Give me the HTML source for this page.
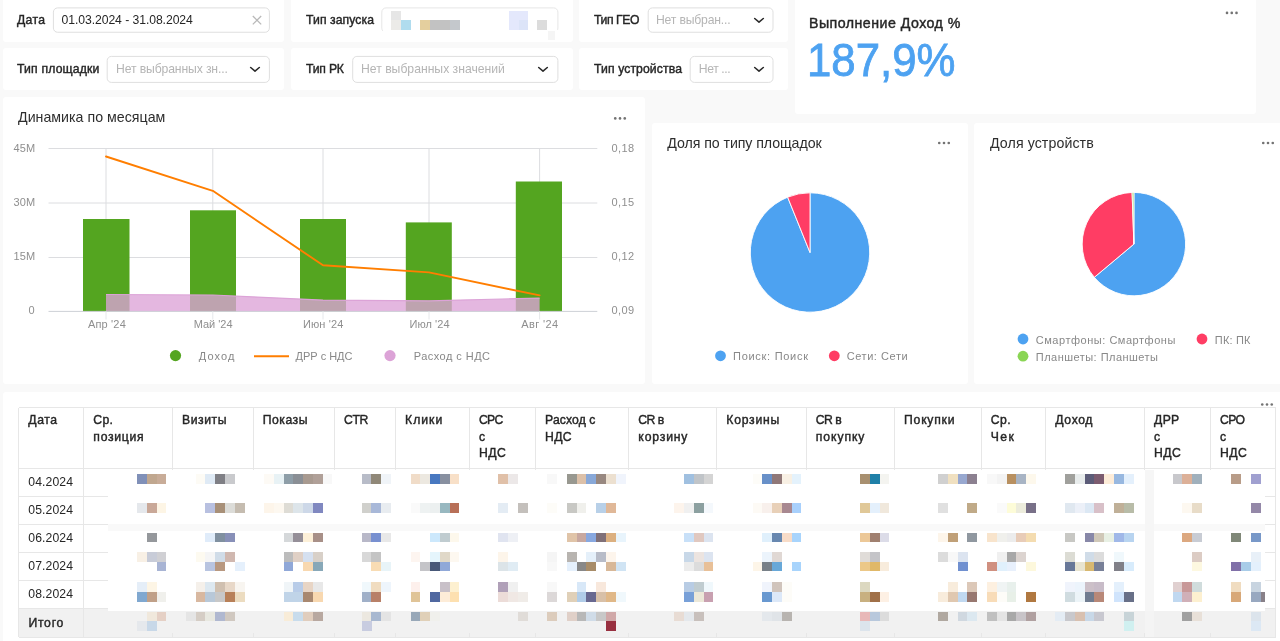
<!DOCTYPE html>
<html lang="ru"><head><meta charset="utf-8"><title>Dashboard</title>
<style>
html,body{margin:0;padding:0;}
body{width:1280px;height:641px;overflow:hidden;background:#f9f9f9;font-family:"Liberation Sans",sans-serif;position:relative;}
.card{position:absolute;background:#fff;border-radius:3px;}
.inp{position:absolute;background:#fff;border:1px solid #e8e8e8;border-radius:4.5px;box-sizing:border-box;}
.t{position:absolute;white-space:nowrap;line-height:1;}
.abs{position:absolute;}
svg{position:absolute;left:0;top:0;overflow:visible;}
.m{position:absolute;}
</style></head><body>
<div id="root" style="position:absolute;left:0;top:0;width:1290px;height:650px;filter:blur(0.35px);">
<div class="card" style="left:3.00px;top:-4.00px;width:281.00px;height:46.00px;"></div>
<div class="card" style="left:3.00px;top:48.30px;width:281.00px;height:42.00px;"></div>
<div class="card" style="left:291.00px;top:-4.00px;width:281.50px;height:46.00px;"></div>
<div class="card" style="left:291.00px;top:48.30px;width:281.50px;height:42.00px;"></div>
<div class="card" style="left:579.00px;top:-4.00px;width:208.50px;height:46.00px;"></div>
<div class="card" style="left:579.00px;top:48.30px;width:208.50px;height:42.00px;"></div>
<div class="card" style="left:795.00px;top:-4.00px;width:461.00px;height:117.50px;"></div>
<div class="card" style="left:3.00px;top:97.30px;width:642.40px;height:287.20px;"></div>
<div class="card" style="left:651.50px;top:122.70px;width:316.20px;height:261.80px;"></div>
<div class="card" style="left:974.40px;top:122.70px;width:309.60px;height:261.80px;"></div>
<div class="card" style="left:2.80px;top:391.80px;width:1281.20px;height:253.20px;"></div>
<svg width="1280" height="641"><rect x="53.4" y="7.9" width="216.00" height="24.35" rx="4.2" fill="#fff" stroke="#dfdfdf" stroke-width="1"/></svg>
<div class="t " style="left:17.00px;top:14.17px;font-size:12.2px;color:#262626;-webkit-text-stroke:0.42px #262626;letter-spacing:0.328px;">Дата</div>
<div class="t " style="left:61.50px;top:14.27px;font-size:12.2px;color:#262626;letter-spacing:-0.067px;">01.03.2024 - 31.08.2024</div>
<svg width="1280" height="641"><path d="M252.8 16 L261.2 24.4 M261.2 16 L252.8 24.4" stroke="#b9b9b9" stroke-width="1.3" fill="none"/></svg>
<svg width="1280" height="641"><rect x="107.2" y="56.4" width="162.20" height="26.00" rx="4.2" fill="#fff" stroke="#dfdfdf" stroke-width="1"/></svg>
<div class="t " style="left:17.00px;top:63.17px;font-size:12.2px;color:#262626;-webkit-text-stroke:0.42px #262626;letter-spacing:0.185px;">Тип площадки</div>
<div class="t " style="left:116.00px;top:63.27px;font-size:12.2px;color:#b5b5b5;letter-spacing:-0.123px;">Нет выбранных зн...</div>
<svg width="1280" height="641"><path d="M250.70 67.50 L255.00 71.05 L259.30 67.50" fill="none" stroke="#2b2b2b" stroke-width="1.6" stroke-linecap="round" stroke-linejoin="round"/></svg>
<svg width="1280" height="641"><rect x="381.8" y="7.9" width="176.10" height="24.35" rx="4.2" fill="#fff" stroke="#e6e6e6" stroke-width="1"/></svg>
<div class="t " style="left:306.00px;top:14.17px;font-size:12.2px;color:#262626;-webkit-text-stroke:0.42px #262626;letter-spacing:0.083px;">Тип запуска</div>
<svg width="1280" height="641"><rect x="352.7" y="56.4" width="205.20" height="26.00" rx="4.2" fill="#fff" stroke="#dfdfdf" stroke-width="1"/></svg>
<div class="t " style="left:306.00px;top:63.17px;font-size:12.2px;color:#262626;-webkit-text-stroke:0.42px #262626;letter-spacing:-0.194px;">Тип РК</div>
<div class="t " style="left:361.00px;top:63.27px;font-size:12.2px;color:#b5b5b5;">Нет выбранных значений</div>
<svg width="1280" height="641"><path d="M538.70 67.50 L543.00 71.05 L547.30 67.50" fill="none" stroke="#2b2b2b" stroke-width="1.6" stroke-linecap="round" stroke-linejoin="round"/></svg>
<svg width="1280" height="641"><rect x="648.2" y="7.9" width="124.80" height="24.35" rx="4.2" fill="#fff" stroke="#dfdfdf" stroke-width="1"/></svg>
<div class="t " style="left:594.00px;top:14.17px;font-size:12.2px;color:#262626;-webkit-text-stroke:0.42px #262626;letter-spacing:-0.410px;">Тип ГЕО</div>
<div class="t " style="left:656.00px;top:14.27px;font-size:12.2px;color:#b5b5b5;letter-spacing:-0.178px;">Нет выбран...</div>
<svg width="1280" height="641"><path d="M754.70 18.50 L759.00 22.05 L763.30 18.50" fill="none" stroke="#2b2b2b" stroke-width="1.6" stroke-linecap="round" stroke-linejoin="round"/></svg>
<svg width="1280" height="641"><rect x="690.2" y="56.4" width="82.80" height="26.00" rx="4.2" fill="#fff" stroke="#dfdfdf" stroke-width="1"/></svg>
<div class="t " style="left:594.00px;top:63.17px;font-size:12.2px;color:#262626;-webkit-text-stroke:0.42px #262626;letter-spacing:0.109px;">Тип устройства</div>
<div class="t " style="left:698.75px;top:63.27px;font-size:12.2px;color:#b5b5b5;letter-spacing:-0.389px;">Нет ...</div>
<svg width="1280" height="641"><path d="M754.70 67.50 L759.00 71.05 L763.30 67.50" fill="none" stroke="#2b2b2b" stroke-width="1.6" stroke-linecap="round" stroke-linejoin="round"/></svg>
<div class="t " style="left:809.00px;top:16.08px;font-size:14.2px;color:#262626;-webkit-text-stroke:0.42px #262626;letter-spacing:0.471px;">Выполнение Доход %</div>
<div class="t " style="left:806.60px;top:37.26px;font-size:46px;color:#4DA2F1;-webkit-text-stroke:0.8px #4DA2F1;transform:scaleX(0.9512);transform-origin:0 0;">187,9%</div>
<svg width="1280" height="641"><g fill="#737373"><circle cx="1227.00" cy="12.9" r="1.3"/><circle cx="1231.75" cy="12.9" r="1.3"/><circle cx="1236.50" cy="12.9" r="1.3"/></g></svg>
<div class="t " style="left:18.00px;top:110.28px;font-size:14.2px;color:#2e2e2e;letter-spacing:0.021px;">Динамика по месяцам</div>
<svg width="1280" height="641"><g fill="#737373"><circle cx="615.25" cy="118.4" r="1.3"/><circle cx="620.00" cy="118.4" r="1.3"/><circle cx="624.75" cy="118.4" r="1.3"/></g></svg>
<div class="t " style="left:667.30px;top:136.18px;font-size:14.2px;color:#2e2e2e;letter-spacing:-0.075px;">Доля по типу площадок</div>
<svg width="1280" height="641"><g fill="#737373"><circle cx="939.25" cy="143" r="1.3"/><circle cx="944.00" cy="143" r="1.3"/><circle cx="948.75" cy="143" r="1.3"/></g></svg>
<div class="t " style="left:990.00px;top:136.18px;font-size:14.2px;color:#2e2e2e;letter-spacing:0.084px;">Доля устройств</div>
<svg width="1280" height="641"><g fill="#737373"><circle cx="1263.25" cy="143" r="1.3"/><circle cx="1268.00" cy="143" r="1.3"/><circle cx="1272.75" cy="143" r="1.3"/></g></svg>
<svg width="1280" height="641"><g fill="#737373"><circle cx="1262.25" cy="404.5" r="1.3"/><circle cx="1267.00" cy="404.5" r="1.3"/><circle cx="1271.75" cy="404.5" r="1.3"/></g></svg>
<svg width="1280" height="641"><line x1="48.5" x2="597.3" y1="148.5" y2="148.5" stroke="#dcdde0" stroke-width="1"/><line x1="48.5" x2="597.3" y1="203.0" y2="203.0" stroke="#dcdde0" stroke-width="1"/><line x1="48.5" x2="597.3" y1="257.5" y2="257.5" stroke="#dcdde0" stroke-width="1"/><line x1="106" x2="106" y1="148.5" y2="311.5" stroke="#dcdde0" stroke-width="1"/><line x1="212.8" x2="212.8" y1="148.5" y2="311.5" stroke="#dcdde0" stroke-width="1"/><line x1="323" x2="323" y1="148.5" y2="311.5" stroke="#dcdde0" stroke-width="1"/><line x1="429" x2="429" y1="148.5" y2="311.5" stroke="#dcdde0" stroke-width="1"/><line x1="539.6" x2="539.6" y1="148.5" y2="311.5" stroke="#dcdde0" stroke-width="1"/><rect x="83" y="219" width="46.50" height="92.50" fill="#54A520"/><rect x="190" y="210.3" width="46.00" height="101.20" fill="#54A520"/><rect x="300" y="219" width="46.00" height="92.50" fill="#54A520"/><rect x="405.8" y="222.4" width="46.00" height="89.10" fill="#54A520"/><rect x="515.8" y="181.5" width="46.20" height="130.00" fill="#54A520"/><polygon points="106,294.5 212.8,295.0 323,300.1 429,300.8 539.6,298.1 539.6,311.5 106,311.5" fill="#DCA3D7" fill-opacity="0.78"/><polyline points="106,294.5 212.8,295.0 323,300.1 429,300.8 539.6,298.1" fill="none" stroke="#DCA3D7" stroke-width="1.2"/><line x1="48.5" x2="597.3" y1="311.4" y2="311.4" stroke="#cdd1d6" stroke-width="1"/><line x1="106" x2="106" y1="311.4" y2="319.5" stroke="#e6e8eb" stroke-width="1"/><line x1="212.8" x2="212.8" y1="311.4" y2="319.5" stroke="#e6e8eb" stroke-width="1"/><line x1="323" x2="323" y1="311.4" y2="319.5" stroke="#e6e8eb" stroke-width="1"/><line x1="429" x2="429" y1="311.4" y2="319.5" stroke="#e6e8eb" stroke-width="1"/><line x1="539.6" x2="539.6" y1="311.4" y2="319.5" stroke="#e6e8eb" stroke-width="1"/><polyline points="106,156.5 212.8,190.8 323,265.3 429,272.4 539.6,295.4" fill="none" stroke="#FF7E00" stroke-width="1.9" stroke-linejoin="round" stroke-linecap="round"/><circle cx="175.5" cy="355.6" r="5.6" fill="#54A520"/><line x1="254" x2="289" y1="356.3" y2="356.3" stroke="#FF7E00" stroke-width="1.9"/><circle cx="390" cy="355.6" r="5.6" fill="#DCA3D7"/></svg>
<div class="t " style="left:13.40px;top:142.59px;font-size:11px;color:#8f8f8f;letter-spacing:0.200px;">45M</div>
<div class="t " style="left:13.40px;top:196.62px;font-size:11px;color:#8f8f8f;letter-spacing:0.200px;">30M</div>
<div class="t " style="left:13.40px;top:250.65px;font-size:11px;color:#8f8f8f;letter-spacing:0.200px;">15M</div>
<div class="t " style="left:28.60px;top:304.68px;font-size:11px;color:#8f8f8f;">0</div>
<div class="t " style="left:611.60px;top:142.59px;font-size:11px;color:#8f8f8f;letter-spacing:0.330px;">0,18</div>
<div class="t " style="left:611.60px;top:196.62px;font-size:11px;color:#8f8f8f;letter-spacing:0.330px;">0,15</div>
<div class="t " style="left:611.60px;top:250.65px;font-size:11px;color:#8f8f8f;letter-spacing:0.330px;">0,12</div>
<div class="t " style="left:611.60px;top:304.68px;font-size:11px;color:#8f8f8f;letter-spacing:0.330px;">0,09</div>
<div class="t " style="left:88.00px;top:319.29px;font-size:11px;color:#8f8f8f;letter-spacing:0.158px;">Апр &#x27;24</div>
<div class="t " style="left:193.75px;top:319.29px;font-size:11px;color:#8f8f8f;letter-spacing:-0.032px;">Май &#x27;24</div>
<div class="t " style="left:303.00px;top:319.29px;font-size:11px;color:#8f8f8f;letter-spacing:0.104px;">Июн &#x27;24</div>
<div class="t " style="left:409.50px;top:319.29px;font-size:11px;color:#8f8f8f;letter-spacing:0.046px;">Июл &#x27;24</div>
<div class="t " style="left:521.25px;top:319.29px;font-size:11px;color:#8f8f8f;letter-spacing:0.361px;">Авг &#x27;24</div>
<div class="t " style="left:198.75px;top:351.29px;font-size:11px;color:#888888;letter-spacing:1.128px;">Доход</div>
<div class="t " style="left:295.50px;top:351.29px;font-size:11px;color:#888888;letter-spacing:-0.009px;">ДРР с НДС</div>
<div class="t " style="left:413.75px;top:351.29px;font-size:11px;color:#888888;letter-spacing:0.458px;">Расход с НДС</div>
<svg width="1280" height="641"><path d="M810.00 252.50 L810.00 192.80 A59.7 59.7 0 1 1 787.64 197.15 Z" fill="#4DA2F1" stroke="#fff" stroke-width="0.9" stroke-linejoin="round"/><path d="M810.00 252.50 L787.64 197.15 A59.7 59.7 0 0 1 810.00 192.80 Z" fill="#FF3D64" stroke="#fff" stroke-width="0.9" stroke-linejoin="round"/></svg>
<svg width="1280" height="641"><circle cx="720.5" cy="355.8" r="5.4" fill="#4DA2F1"/></svg>
<div class="t " style="left:733.00px;top:351.29px;font-size:11px;color:#888888;letter-spacing:0.721px;">Поиск: Поиск</div>
<svg width="1280" height="641"><circle cx="834.3" cy="355.8" r="5.4" fill="#FF3D64"/></svg>
<div class="t " style="left:846.70px;top:351.29px;font-size:11px;color:#888888;letter-spacing:0.570px;">Сети: Сети</div>
<svg width="1280" height="641"><path d="M1133.90 244.10 L1133.90 192.40 A51.7 51.7 0 1 1 1094.30 277.33 Z" fill="#4DA2F1" stroke="#fff" stroke-width="0.9" stroke-linejoin="round"/><path d="M1133.90 244.10 L1094.30 277.33 A51.7 51.7 0 0 1 1132.10 192.43 Z" fill="#FF3D64" stroke="#fff" stroke-width="0.9" stroke-linejoin="round"/><path d="M1133.90 244.10 L1132.10 192.43 A51.7 51.7 0 0 1 1133.90 192.40 Z" fill="#8AD554" stroke="#fff" stroke-width="0.9" stroke-linejoin="round"/></svg>
<svg width="1280" height="641"><circle cx="1023" cy="339" r="5.4" fill="#4DA2F1"/></svg>
<div class="t " style="left:1035.80px;top:334.59px;font-size:11px;color:#888888;letter-spacing:0.527px;">Смартфоны: Смартфоны</div>
<svg width="1280" height="641"><circle cx="1202" cy="339" r="5.4" fill="#FF3D64"/></svg>
<div class="t " style="left:1214.80px;top:334.59px;font-size:11px;color:#888888;letter-spacing:0.172px;">ПК: ПК</div>
<svg width="1280" height="641"><circle cx="1023" cy="356.2" r="5.4" fill="#8AD554"/></svg>
<div class="t " style="left:1035.80px;top:351.79px;font-size:11px;color:#888888;letter-spacing:0.471px;">Планшеты: Планшеты</div>
<svg width="1280" height="641" shape-rendering="crispEdges"><rect x="18.75" y="608.75" width="1257.0" height="28.25" fill="#f1f1f1"/><rect x="18.75" y="407.0" width="1257.0" height="1" fill="#e7e7e7"/><rect x="18.75" y="468.25" width="1257.0" height="1" fill="#e7e7e7"/><rect x="18.75" y="496.0" width="1257.0" height="1" fill="#e7e7e7"/><rect x="18.75" y="524.0" width="1257.0" height="1" fill="#e7e7e7"/><rect x="18.75" y="552.25" width="1257.0" height="1" fill="#e7e7e7"/><rect x="18.75" y="580.25" width="1257.0" height="1" fill="#e7e7e7"/><rect x="18.75" y="608.25" width="1257.0" height="1" fill="#e7e7e7"/><rect x="18.75" y="636.5" width="1257.0" height="1" fill="#e7e7e7"/><rect x="18.25" y="407.5" width="1" height="229.5" fill="#e7e7e7"/><rect x="83.25" y="407.5" width="1" height="229.5" fill="#e7e7e7"/><rect x="172.0" y="407.5" width="1" height="229.5" fill="#e7e7e7"/><rect x="252.75" y="407.5" width="1" height="229.5" fill="#e7e7e7"/><rect x="334.0" y="407.5" width="1" height="229.5" fill="#e7e7e7"/><rect x="395.0" y="407.5" width="1" height="229.5" fill="#e7e7e7"/><rect x="469.0" y="407.5" width="1" height="229.5" fill="#e7e7e7"/><rect x="535.0" y="407.5" width="1" height="229.5" fill="#e7e7e7"/><rect x="628.25" y="407.5" width="1" height="229.5" fill="#e7e7e7"/><rect x="716.25" y="407.5" width="1" height="229.5" fill="#e7e7e7"/><rect x="805.75" y="407.5" width="1" height="229.5" fill="#e7e7e7"/><rect x="894.0" y="407.5" width="1" height="229.5" fill="#e7e7e7"/><rect x="980.75" y="407.5" width="1" height="229.5" fill="#e7e7e7"/><rect x="1045.25" y="407.5" width="1" height="229.5" fill="#e7e7e7"/><rect x="1144.0" y="407.5" width="1" height="229.5" fill="#e7e7e7"/><rect x="1210.0" y="407.5" width="1" height="229.5" fill="#e7e7e7"/><rect x="1275.25" y="407.5" width="1" height="229.5" fill="#e7e7e7"/><rect x="107.5" y="469.6" width="1157.5" height="141.7" fill="#ffffff"/><rect x="84.6" y="469.6" width="24" height="26" fill="#ffffff"/><rect x="107.5" y="523.6" width="1157.5" height="7.6" fill="#f9f9f9"/><rect x="1144.5" y="469.6" width="9.8" height="141.6" fill="#f6f6f6"/><rect x="107.5" y="611.2" width="1157.5" height="21.5" fill="#f1f1f1"/><rect x="1145" y="611.2" width="8.8" height="25.3" fill="#f4f4f4"/></svg>
<div class="t " style="left:28.35px;top:414.27px;font-size:12.2px;color:#262626;-webkit-text-stroke:0.42px #262626;letter-spacing:0.545px;">Дата</div>
<div class="t " style="left:93.35px;top:414.27px;font-size:12.2px;color:#262626;-webkit-text-stroke:0.42px #262626;letter-spacing:0.332px;">Ср.</div>
<div class="t " style="left:93.35px;top:430.87px;font-size:12.2px;color:#262626;-webkit-text-stroke:0.42px #262626;letter-spacing:0.721px;">позиция</div>
<div class="t " style="left:182.10px;top:414.27px;font-size:12.2px;color:#262626;-webkit-text-stroke:0.42px #262626;letter-spacing:0.536px;">Визиты</div>
<div class="t " style="left:262.85px;top:414.27px;font-size:12.2px;color:#262626;-webkit-text-stroke:0.42px #262626;letter-spacing:0.496px;">Показы</div>
<div class="t " style="left:344.10px;top:414.27px;font-size:12.2px;color:#262626;-webkit-text-stroke:0.42px #262626;letter-spacing:-0.462px;">CTR</div>
<div class="t " style="left:405.10px;top:414.27px;font-size:12.2px;color:#262626;-webkit-text-stroke:0.42px #262626;letter-spacing:0.989px;">Клики</div>
<div class="t " style="left:479.10px;top:414.27px;font-size:12.2px;color:#262626;-webkit-text-stroke:0.42px #262626;letter-spacing:-0.805px;">CPC</div>
<div class="t " style="left:479.10px;top:430.87px;font-size:12.2px;color:#262626;-webkit-text-stroke:0.42px #262626;">с</div>
<div class="t " style="left:479.10px;top:447.47px;font-size:12.2px;color:#262626;-webkit-text-stroke:0.42px #262626;letter-spacing:0.383px;">НДС</div>
<div class="t " style="left:545.10px;top:414.27px;font-size:12.2px;color:#262626;-webkit-text-stroke:0.42px #262626;letter-spacing:0.099px;">Расход с</div>
<div class="t " style="left:545.10px;top:430.87px;font-size:12.2px;color:#262626;-webkit-text-stroke:0.42px #262626;letter-spacing:0.258px;">НДС</div>
<div class="t " style="left:638.35px;top:414.27px;font-size:12.2px;color:#262626;-webkit-text-stroke:0.42px #262626;letter-spacing:-0.531px;">CR в</div>
<div class="t " style="left:638.35px;top:430.87px;font-size:12.2px;color:#262626;-webkit-text-stroke:0.42px #262626;letter-spacing:0.833px;">корзину</div>
<div class="t " style="left:726.35px;top:414.27px;font-size:12.2px;color:#262626;-webkit-text-stroke:0.42px #262626;letter-spacing:0.741px;">Корзины</div>
<div class="t " style="left:815.85px;top:414.27px;font-size:12.2px;color:#262626;-webkit-text-stroke:0.42px #262626;letter-spacing:-0.531px;">CR в</div>
<div class="t " style="left:815.85px;top:430.87px;font-size:12.2px;color:#262626;-webkit-text-stroke:0.42px #262626;letter-spacing:0.917px;">покупку</div>
<div class="t " style="left:904.10px;top:414.27px;font-size:12.2px;color:#262626;-webkit-text-stroke:0.42px #262626;letter-spacing:0.752px;">Покупки</div>
<div class="t " style="left:990.85px;top:414.27px;font-size:12.2px;color:#262626;-webkit-text-stroke:0.42px #262626;letter-spacing:0.457px;">Ср.</div>
<div class="t " style="left:990.85px;top:430.87px;font-size:12.2px;color:#262626;-webkit-text-stroke:0.42px #262626;letter-spacing:1.323px;">Чек</div>
<div class="t " style="left:1055.35px;top:414.27px;font-size:12.2px;color:#262626;-webkit-text-stroke:0.42px #262626;letter-spacing:0.626px;">Доход</div>
<div class="t " style="left:1154.10px;top:414.27px;font-size:12.2px;color:#262626;-webkit-text-stroke:0.42px #262626;letter-spacing:0.306px;">ДРР</div>
<div class="t " style="left:1154.10px;top:430.87px;font-size:12.2px;color:#262626;-webkit-text-stroke:0.42px #262626;">с</div>
<div class="t " style="left:1154.10px;top:447.47px;font-size:12.2px;color:#262626;-webkit-text-stroke:0.42px #262626;letter-spacing:0.383px;">НДС</div>
<div class="t " style="left:1220.10px;top:414.27px;font-size:12.2px;color:#262626;-webkit-text-stroke:0.42px #262626;letter-spacing:-0.769px;">CPO</div>
<div class="t " style="left:1220.10px;top:430.87px;font-size:12.2px;color:#262626;-webkit-text-stroke:0.42px #262626;">с</div>
<div class="t " style="left:1220.10px;top:447.47px;font-size:12.2px;color:#262626;-webkit-text-stroke:0.42px #262626;letter-spacing:0.383px;">НДС</div>
<div class="t " style="left:28.25px;top:475.77px;font-size:12.2px;color:#262626;letter-spacing:0.108px;">04.2024</div>
<div class="t " style="left:28.25px;top:503.92px;font-size:12.2px;color:#262626;letter-spacing:0.108px;">05.2024</div>
<div class="t " style="left:28.25px;top:532.07px;font-size:12.2px;color:#262626;letter-spacing:0.108px;">06.2024</div>
<div class="t " style="left:28.25px;top:560.22px;font-size:12.2px;color:#262626;letter-spacing:0.108px;">07.2024</div>
<div class="t " style="left:28.25px;top:588.37px;font-size:12.2px;color:#262626;letter-spacing:0.108px;">08.2024</div>
<div class="t " style="left:28.40px;top:616.57px;font-size:12.2px;color:#262626;-webkit-text-stroke:0.42px #262626;letter-spacing:0.757px;">Итого</div>
<div class="abs" style="left:383px;top:30.2px;width:177px;height:9px;background:#fff;"></div>
<div class="abs" style="left:548px;top:31px;width:7px;height:8.5px;background:#f5f5f5;"></div>
<svg width="1280" height="641" shape-rendering="crispEdges"><rect x="137.00" y="474.30" width="9.82" height="9.20" fill="#8090b8"/><rect x="146.77" y="474.30" width="9.82" height="9.20" fill="#c0a78f"/><rect x="156.54" y="474.30" width="9.82" height="9.20" fill="#c8ac98"/><rect x="195.62" y="474.30" width="9.82" height="9.20" fill="#fdfbf5"/><rect x="205.39" y="474.30" width="9.82" height="9.20" fill="#dfeaf5"/><rect x="215.16" y="474.30" width="9.82" height="9.20" fill="#7f7f85"/><rect x="224.93" y="474.30" width="9.82" height="9.20" fill="#c9cacd"/><rect x="264.01" y="474.30" width="9.82" height="9.20" fill="#fdfaf5"/><rect x="273.78" y="474.30" width="9.82" height="9.20" fill="#e8f2f5"/><rect x="283.55" y="474.30" width="9.82" height="9.20" fill="#8e9ea8"/><rect x="293.32" y="474.30" width="9.82" height="9.20" fill="#8a8f95"/><rect x="303.09" y="474.30" width="9.82" height="9.20" fill="#a89a90"/><rect x="312.86" y="474.30" width="9.82" height="9.20" fill="#b0a098"/><rect x="322.63" y="474.30" width="9.82" height="9.20" fill="#f8f8f8"/><rect x="361.71" y="474.30" width="9.82" height="9.20" fill="#b8bcc8"/><rect x="371.48" y="474.30" width="9.82" height="9.20" fill="#908878"/><rect x="381.25" y="474.30" width="9.82" height="9.20" fill="#f0f4f8"/><rect x="410.56" y="474.30" width="9.82" height="9.20" fill="#f0dcc8"/><rect x="420.33" y="474.30" width="9.82" height="9.20" fill="#ece8e0"/><rect x="430.10" y="474.30" width="9.82" height="9.20" fill="#4878c0"/><rect x="439.87" y="474.30" width="9.82" height="9.20" fill="#8890a0"/><rect x="449.64" y="474.30" width="9.82" height="9.20" fill="#f8e0c8"/><rect x="498.49" y="474.30" width="9.82" height="9.20" fill="#e0c0a8"/><rect x="508.26" y="474.30" width="9.82" height="9.20" fill="#ece8e8"/><rect x="547.34" y="474.30" width="9.82" height="9.20" fill="#f8f8f8"/><rect x="566.88" y="474.30" width="9.82" height="9.20" fill="#989890"/><rect x="576.65" y="474.30" width="9.82" height="9.20" fill="#dcc0a8"/><rect x="586.42" y="474.30" width="9.82" height="9.20" fill="#88a8d8"/><rect x="596.19" y="474.30" width="9.82" height="9.20" fill="#988880"/><rect x="605.96" y="474.30" width="9.82" height="9.20" fill="#ece0d0"/><rect x="615.73" y="474.30" width="9.82" height="9.20" fill="#f0f4fc"/><rect x="684.12" y="474.30" width="9.82" height="9.20" fill="#a0c0e0"/><rect x="693.89" y="474.30" width="9.82" height="9.20" fill="#c0c4c8"/><rect x="703.66" y="474.30" width="9.82" height="9.20" fill="#d4d4d4"/><rect x="752.51" y="474.30" width="9.82" height="9.20" fill="#fdfcf8"/><rect x="762.28" y="474.30" width="9.82" height="9.20" fill="#6890c8"/><rect x="772.05" y="474.30" width="9.82" height="9.20" fill="#907878"/><rect x="781.82" y="474.30" width="9.82" height="9.20" fill="#f8f0e4"/><rect x="791.59" y="474.30" width="9.82" height="9.20" fill="#e4f2fc"/><rect x="859.98" y="474.30" width="9.82" height="9.20" fill="#a89070"/><rect x="869.75" y="474.30" width="9.82" height="9.20" fill="#2080a8"/><rect x="879.52" y="474.30" width="9.82" height="9.20" fill="#f4f4f0"/><rect x="938.14" y="474.30" width="9.82" height="9.20" fill="#d0d0d0"/><rect x="947.91" y="474.30" width="9.82" height="9.20" fill="#f0e0c0"/><rect x="957.68" y="474.30" width="9.82" height="9.20" fill="#98a8d0"/><rect x="967.45" y="474.30" width="9.82" height="9.20" fill="#8c8090"/><rect x="986.99" y="474.30" width="9.82" height="9.20" fill="#f8f8f8"/><rect x="996.76" y="474.30" width="9.82" height="9.20" fill="#f3f3f3"/><rect x="1006.53" y="474.30" width="9.82" height="9.20" fill="#b89060"/><rect x="1016.30" y="474.30" width="9.82" height="9.20" fill="#a8b4c4"/><rect x="1026.07" y="474.30" width="9.82" height="9.20" fill="#fdf8ec"/><rect x="1065.15" y="474.30" width="9.82" height="9.20" fill="#a0a09c"/><rect x="1074.92" y="474.30" width="9.82" height="9.20" fill="#e8ecec"/><rect x="1084.69" y="474.30" width="9.82" height="9.20" fill="#5c5c78"/><rect x="1094.46" y="474.30" width="9.82" height="9.20" fill="#7c5c70"/><rect x="1104.23" y="474.30" width="9.82" height="9.20" fill="#fdecd8"/><rect x="1114.00" y="474.30" width="9.82" height="9.20" fill="#98b8e0"/><rect x="1123.77" y="474.30" width="9.82" height="9.20" fill="#e4f0fc"/><rect x="1172.62" y="474.30" width="9.82" height="9.20" fill="#c8c8cc"/><rect x="1182.39" y="474.30" width="9.82" height="9.20" fill="#dcb098"/><rect x="1192.16" y="474.30" width="9.82" height="9.20" fill="#a0b0bc"/><rect x="1231.24" y="474.30" width="9.82" height="9.20" fill="#b89c88"/><rect x="1250.78" y="474.30" width="9.82" height="9.20" fill="#a0a0d0"/><rect x="137.00" y="503.30" width="9.82" height="9.50" fill="#e5e8ec"/><rect x="146.77" y="503.30" width="9.82" height="9.50" fill="#c9a898"/><rect x="156.54" y="503.30" width="9.82" height="9.50" fill="#fdf5e5"/><rect x="205.39" y="503.30" width="9.82" height="9.50" fill="#b8c0e0"/><rect x="215.16" y="503.30" width="9.82" height="9.50" fill="#a89078"/><rect x="224.93" y="503.30" width="9.82" height="9.50" fill="#dcdcd8"/><rect x="234.70" y="503.30" width="9.82" height="9.50" fill="#c5bcb0"/><rect x="264.01" y="503.30" width="9.82" height="9.50" fill="#fdf5ea"/><rect x="273.78" y="503.30" width="9.82" height="9.50" fill="#fdf8f0"/><rect x="283.55" y="503.30" width="9.82" height="9.50" fill="#dedcd5"/><rect x="293.32" y="503.30" width="9.82" height="9.50" fill="#dde5ea"/><rect x="303.09" y="503.30" width="9.82" height="9.50" fill="#cdd8e8"/><rect x="312.86" y="503.30" width="9.82" height="9.50" fill="#8088c0"/><rect x="361.71" y="503.30" width="9.82" height="9.50" fill="#d0d0cc"/><rect x="371.48" y="503.30" width="9.82" height="9.50" fill="#a8b8d8"/><rect x="381.25" y="503.30" width="9.82" height="9.50" fill="#e8ecf0"/><rect x="410.56" y="503.30" width="9.82" height="9.50" fill="#fafafa"/><rect x="420.33" y="503.30" width="9.82" height="9.50" fill="#eef2f2"/><rect x="430.10" y="503.30" width="9.82" height="9.50" fill="#ecf0f0"/><rect x="439.87" y="503.30" width="9.82" height="9.50" fill="#98b8c0"/><rect x="449.64" y="503.30" width="9.82" height="9.50" fill="#b87058"/><rect x="498.49" y="503.30" width="9.82" height="9.50" fill="#e4ecf4"/><rect x="518.03" y="503.30" width="9.82" height="9.50" fill="#c4c0bc"/><rect x="547.34" y="503.30" width="9.82" height="9.50" fill="#fdfcf8"/><rect x="566.88" y="503.30" width="9.82" height="9.50" fill="#c8c8c4"/><rect x="576.65" y="503.30" width="9.82" height="9.50" fill="#f0f0ec"/><rect x="596.19" y="503.30" width="9.82" height="9.50" fill="#b8d0e8"/><rect x="605.96" y="503.30" width="9.82" height="9.50" fill="#e0b898"/><rect x="674.35" y="503.30" width="9.82" height="9.50" fill="#fdf4ec"/><rect x="684.12" y="503.30" width="9.82" height="9.50" fill="#f0f0f0"/><rect x="693.89" y="503.30" width="9.82" height="9.50" fill="#8ca0a0"/><rect x="703.66" y="503.30" width="9.82" height="9.50" fill="#f4f8fc"/><rect x="752.51" y="503.30" width="9.82" height="9.50" fill="#fdfaf5"/><rect x="762.28" y="503.30" width="9.82" height="9.50" fill="#f8f0ec"/><rect x="772.05" y="503.30" width="9.82" height="9.50" fill="#e8d0b8"/><rect x="781.82" y="503.30" width="9.82" height="9.50" fill="#a88890"/><rect x="791.59" y="503.30" width="9.82" height="9.50" fill="#a8d0fc"/><rect x="859.98" y="503.30" width="9.82" height="9.50" fill="#e0c898"/><rect x="869.75" y="503.30" width="9.82" height="9.50" fill="#e4f0fc"/><rect x="879.52" y="503.30" width="9.82" height="9.50" fill="#f0e8dc"/><rect x="938.14" y="503.30" width="9.82" height="9.50" fill="#e0e0e0"/><rect x="967.45" y="503.30" width="9.82" height="9.50" fill="#c0aa88"/><rect x="996.76" y="503.30" width="9.82" height="9.50" fill="#fafafa"/><rect x="1006.53" y="503.30" width="9.82" height="9.50" fill="#fdfcd8"/><rect x="1016.30" y="503.30" width="9.82" height="9.50" fill="#ececdc"/><rect x="1026.07" y="503.30" width="9.82" height="9.50" fill="#787088"/><rect x="1065.15" y="503.30" width="9.82" height="9.50" fill="#e0e8f0"/><rect x="1074.92" y="503.30" width="9.82" height="9.50" fill="#ecf0f8"/><rect x="1084.69" y="503.30" width="9.82" height="9.50" fill="#dce8f4"/><rect x="1094.46" y="503.30" width="9.82" height="9.50" fill="#d8c0c8"/><rect x="1114.00" y="503.30" width="9.82" height="9.50" fill="#c0b098"/><rect x="1123.77" y="503.30" width="9.82" height="9.50" fill="#b8bca8"/><rect x="1182.39" y="503.30" width="9.82" height="9.50" fill="#fdf8f0"/><rect x="1192.16" y="503.30" width="9.82" height="9.50" fill="#e8dcc8"/><rect x="1250.78" y="503.30" width="9.82" height="9.50" fill="#9488a8"/><rect x="146.77" y="532.50" width="9.82" height="9.50" fill="#95989c"/><rect x="205.39" y="532.50" width="9.82" height="9.50" fill="#e0ecfa"/><rect x="215.16" y="532.50" width="9.82" height="9.50" fill="#8090a0"/><rect x="224.93" y="532.50" width="9.82" height="9.50" fill="#8890b8"/><rect x="283.55" y="532.50" width="9.82" height="9.50" fill="#d5d8da"/><rect x="293.32" y="532.50" width="9.82" height="9.50" fill="#958f98"/><rect x="303.09" y="532.50" width="9.82" height="9.50" fill="#fdf0d8"/><rect x="312.86" y="532.50" width="9.82" height="9.50" fill="#a89088"/><rect x="361.71" y="532.50" width="9.82" height="9.50" fill="#b8b8c8"/><rect x="371.48" y="532.50" width="9.82" height="9.50" fill="#7890d0"/><rect x="381.25" y="532.50" width="9.82" height="9.50" fill="#e8e8e8"/><rect x="430.10" y="532.50" width="9.82" height="9.50" fill="#cce8fc"/><rect x="439.87" y="532.50" width="9.82" height="9.50" fill="#c0ccd0"/><rect x="449.64" y="532.50" width="9.82" height="9.50" fill="#fdf8ec"/><rect x="498.49" y="532.50" width="9.82" height="9.50" fill="#e0e4f0"/><rect x="508.26" y="532.50" width="9.82" height="9.50" fill="#eef0f5"/><rect x="566.88" y="532.50" width="9.82" height="9.50" fill="#e0c4a8"/><rect x="576.65" y="532.50" width="9.82" height="9.50" fill="#c8a8a0"/><rect x="586.42" y="532.50" width="9.82" height="9.50" fill="#88a8e0"/><rect x="596.19" y="532.50" width="9.82" height="9.50" fill="#807078"/><rect x="605.96" y="532.50" width="9.82" height="9.50" fill="#dcb080"/><rect x="615.73" y="532.50" width="9.82" height="9.50" fill="#e8f4fc"/><rect x="684.12" y="532.50" width="9.82" height="9.50" fill="#c8e0f8"/><rect x="693.89" y="532.50" width="9.82" height="9.50" fill="#e0c8c0"/><rect x="703.66" y="532.50" width="9.82" height="9.50" fill="#dce4f0"/><rect x="762.28" y="532.50" width="9.82" height="9.50" fill="#e0f0fc"/><rect x="772.05" y="532.50" width="9.82" height="9.50" fill="#6888b0"/><rect x="781.82" y="532.50" width="9.82" height="9.50" fill="#f8dcc8"/><rect x="791.59" y="532.50" width="9.82" height="9.50" fill="#a8d4fc"/><rect x="859.98" y="532.50" width="9.82" height="9.50" fill="#ecc898"/><rect x="869.75" y="532.50" width="9.82" height="9.50" fill="#a08070"/><rect x="879.52" y="532.50" width="9.82" height="9.50" fill="#dcdce8"/><rect x="938.14" y="532.50" width="9.82" height="9.50" fill="#fdf5ea"/><rect x="947.91" y="532.50" width="9.82" height="9.50" fill="#c0a078"/><rect x="967.45" y="532.50" width="9.82" height="9.50" fill="#9098a0"/><rect x="986.99" y="532.50" width="9.82" height="9.50" fill="#f8e4cc"/><rect x="996.76" y="532.50" width="9.82" height="9.50" fill="#f0f0ec"/><rect x="1006.53" y="532.50" width="9.82" height="9.50" fill="#ececec"/><rect x="1016.30" y="532.50" width="9.82" height="9.50" fill="#e8ccb8"/><rect x="1026.07" y="532.50" width="9.82" height="9.50" fill="#f4dcb0"/><rect x="1065.15" y="532.50" width="9.82" height="9.50" fill="#c8c8c4"/><rect x="1084.69" y="532.50" width="9.82" height="9.50" fill="#8888a8"/><rect x="1094.46" y="532.50" width="9.82" height="9.50" fill="#d0c8b8"/><rect x="1104.23" y="532.50" width="9.82" height="9.50" fill="#e8f0e4"/><rect x="1114.00" y="532.50" width="9.82" height="9.50" fill="#a0b8e8"/><rect x="1123.77" y="532.50" width="9.82" height="9.50" fill="#b8d4f0"/><rect x="1182.39" y="532.50" width="9.82" height="9.50" fill="#dca880"/><rect x="1192.16" y="532.50" width="9.82" height="9.50" fill="#c8ccd4"/><rect x="1231.24" y="532.50" width="9.82" height="9.50" fill="#808878"/><rect x="1250.78" y="532.50" width="9.82" height="9.50" fill="#7898c8"/><rect x="137.00" y="552.30" width="9.82" height="9.50" fill="#f8f0e5"/><rect x="146.77" y="552.30" width="9.82" height="9.50" fill="#c8ccd8"/><rect x="156.54" y="552.30" width="9.82" height="9.50" fill="#d0d0d4"/><rect x="195.62" y="552.30" width="9.82" height="9.50" fill="#fdfaf0"/><rect x="205.39" y="552.30" width="9.82" height="9.50" fill="#f5f5f5"/><rect x="215.16" y="552.30" width="9.82" height="9.50" fill="#d0dce8"/><rect x="224.93" y="552.30" width="9.82" height="9.50" fill="#d0b8b0"/><rect x="283.55" y="552.30" width="9.82" height="9.50" fill="#bcbcbc"/><rect x="293.32" y="552.30" width="9.82" height="9.50" fill="#e0d0c5"/><rect x="303.09" y="552.30" width="9.82" height="9.50" fill="#d5e0f0"/><rect x="312.86" y="552.30" width="9.82" height="9.50" fill="#d8d0c8"/><rect x="361.71" y="552.30" width="9.82" height="9.50" fill="#d8d8d8"/><rect x="371.48" y="552.30" width="9.82" height="9.50" fill="#c4c4c4"/><rect x="410.56" y="552.30" width="9.82" height="9.50" fill="#fdf5f0"/><rect x="430.10" y="552.30" width="9.82" height="9.50" fill="#e5f5fc"/><rect x="439.87" y="552.30" width="9.82" height="9.50" fill="#e0d8c8"/><rect x="449.64" y="552.30" width="9.82" height="9.50" fill="#fdf8f0"/><rect x="498.49" y="552.30" width="9.82" height="9.50" fill="#fdf5ea"/><rect x="547.34" y="552.30" width="9.82" height="9.50" fill="#f5f5f5"/><rect x="566.88" y="552.30" width="9.82" height="9.50" fill="#b8b4b0"/><rect x="586.42" y="552.30" width="9.82" height="9.50" fill="#e5f0fa"/><rect x="596.19" y="552.30" width="9.82" height="9.50" fill="#b8bcc8"/><rect x="605.96" y="552.30" width="9.82" height="9.50" fill="#fdf5ec"/><rect x="684.12" y="552.30" width="9.82" height="9.50" fill="#c8d8e8"/><rect x="693.89" y="552.30" width="9.82" height="9.50" fill="#ece4e0"/><rect x="703.66" y="552.30" width="9.82" height="9.50" fill="#dce4f0"/><rect x="762.28" y="552.30" width="9.82" height="9.50" fill="#ecf4fc"/><rect x="772.05" y="552.30" width="9.82" height="9.50" fill="#e0d8d4"/><rect x="859.98" y="552.30" width="9.82" height="9.50" fill="#e0dcd8"/><rect x="869.75" y="552.30" width="9.82" height="9.50" fill="#c4c4c8"/><rect x="938.14" y="552.30" width="9.82" height="9.50" fill="#dcdcdc"/><rect x="947.91" y="552.30" width="9.82" height="9.50" fill="#f8f8f8"/><rect x="957.68" y="552.30" width="9.82" height="9.50" fill="#dce4f0"/><rect x="996.76" y="552.30" width="9.82" height="9.50" fill="#f0f0f0"/><rect x="1006.53" y="552.30" width="9.82" height="9.50" fill="#a8a8a8"/><rect x="1016.30" y="552.30" width="9.82" height="9.50" fill="#dcd4d0"/><rect x="1065.15" y="552.30" width="9.82" height="9.50" fill="#dcdcd4"/><rect x="1084.69" y="552.30" width="9.82" height="9.50" fill="#d0dce8"/><rect x="1094.46" y="552.30" width="9.82" height="9.50" fill="#dcdcdc"/><rect x="1114.00" y="552.30" width="9.82" height="9.50" fill="#f0f8fc"/><rect x="1192.16" y="552.30" width="9.82" height="9.50" fill="#dcccc4"/><rect x="1250.78" y="552.30" width="9.82" height="9.50" fill="#e8f0f8"/><rect x="156.54" y="561.75" width="9.82" height="9.55" fill="#a8b4d4"/><rect x="205.39" y="561.75" width="9.82" height="9.55" fill="#b8c4e0"/><rect x="215.16" y="561.75" width="9.82" height="9.55" fill="#b89880"/><rect x="234.70" y="561.75" width="9.82" height="9.55" fill="#e5f0fc"/><rect x="283.55" y="561.75" width="9.82" height="9.55" fill="#90a8d8"/><rect x="303.09" y="561.75" width="9.82" height="9.55" fill="#f8d8b0"/><rect x="312.86" y="561.75" width="9.82" height="9.55" fill="#88a8b8"/><rect x="371.48" y="561.75" width="9.82" height="9.55" fill="#f8dcb4"/><rect x="381.25" y="561.75" width="9.82" height="9.55" fill="#e8f4f8"/><rect x="420.33" y="561.75" width="9.82" height="9.55" fill="#c4c4c8"/><rect x="430.10" y="561.75" width="9.82" height="9.55" fill="#485878"/><rect x="439.87" y="561.75" width="9.82" height="9.55" fill="#90a8d8"/><rect x="498.49" y="561.75" width="9.82" height="9.55" fill="#dce4e8"/><rect x="508.26" y="561.75" width="9.82" height="9.55" fill="#e0ecf4"/><rect x="547.34" y="561.75" width="9.82" height="9.55" fill="#f8f8f8"/><rect x="566.88" y="561.75" width="9.82" height="9.55" fill="#e5f0fc"/><rect x="576.65" y="561.75" width="9.82" height="9.55" fill="#888888"/><rect x="586.42" y="561.75" width="9.82" height="9.55" fill="#a88c68"/><rect x="605.96" y="561.75" width="9.82" height="9.55" fill="#d8b898"/><rect x="615.73" y="561.75" width="9.82" height="9.55" fill="#d0e4f4"/><rect x="684.12" y="561.75" width="9.82" height="9.55" fill="#ececec"/><rect x="693.89" y="561.75" width="9.82" height="9.55" fill="#dcdcdc"/><rect x="703.66" y="561.75" width="9.82" height="9.55" fill="#e8c098"/><rect x="752.51" y="561.75" width="9.82" height="9.55" fill="#fdf5e8"/><rect x="762.28" y="561.75" width="9.82" height="9.55" fill="#788088"/><rect x="772.05" y="561.75" width="9.82" height="9.55" fill="#68a8d8"/><rect x="791.59" y="561.75" width="9.82" height="9.55" fill="#a8d4fc"/><rect x="859.98" y="561.75" width="9.82" height="9.55" fill="#ecc888"/><rect x="869.75" y="561.75" width="9.82" height="9.55" fill="#e0b868"/><rect x="879.52" y="561.75" width="9.82" height="9.55" fill="#f8ecdc"/><rect x="957.68" y="561.75" width="9.82" height="9.55" fill="#7090d0"/><rect x="986.99" y="561.75" width="9.82" height="9.55" fill="#d09080"/><rect x="996.76" y="561.75" width="9.82" height="9.55" fill="#e0f0fc"/><rect x="1006.53" y="561.75" width="9.82" height="9.55" fill="#e8f0fc"/><rect x="1026.07" y="561.75" width="9.82" height="9.55" fill="#fdf8dc"/><rect x="1065.15" y="561.75" width="9.82" height="9.55" fill="#687898"/><rect x="1074.92" y="561.75" width="9.82" height="9.55" fill="#e8e4d0"/><rect x="1084.69" y="561.75" width="9.82" height="9.55" fill="#d8b870"/><rect x="1094.46" y="561.75" width="9.82" height="9.55" fill="#788098"/><rect x="1114.00" y="561.75" width="9.82" height="9.55" fill="#808088"/><rect x="1123.77" y="561.75" width="9.82" height="9.55" fill="#d8ecfc"/><rect x="1192.16" y="561.75" width="9.82" height="9.55" fill="#fdf8e0"/><rect x="1231.24" y="561.75" width="9.82" height="9.55" fill="#8070a8"/><rect x="1241.01" y="561.75" width="9.82" height="9.55" fill="#a8cce8"/><rect x="1250.78" y="561.75" width="9.82" height="9.55" fill="#e4f0fc"/><rect x="137.00" y="582.40" width="9.82" height="9.65" fill="#e5eef8"/><rect x="146.77" y="582.40" width="9.82" height="9.65" fill="#fdf5e5"/><rect x="195.62" y="582.40" width="9.82" height="9.65" fill="#f5f0ea"/><rect x="205.39" y="582.40" width="9.82" height="9.65" fill="#dde8f0"/><rect x="215.16" y="582.40" width="9.82" height="9.65" fill="#d0c0b0"/><rect x="224.93" y="582.40" width="9.82" height="9.65" fill="#e8d8c8"/><rect x="234.70" y="582.40" width="9.82" height="9.65" fill="#f8f5f0"/><rect x="283.55" y="582.40" width="9.82" height="9.65" fill="#f0f5f8"/><rect x="293.32" y="582.40" width="9.82" height="9.65" fill="#b8cce8"/><rect x="303.09" y="582.40" width="9.82" height="9.65" fill="#e8d5c5"/><rect x="312.86" y="582.40" width="9.82" height="9.65" fill="#e8e8e8"/><rect x="361.71" y="582.40" width="9.82" height="9.65" fill="#f0f8fc"/><rect x="371.48" y="582.40" width="9.82" height="9.65" fill="#f0dcc0"/><rect x="381.25" y="582.40" width="9.82" height="9.65" fill="#eef5fc"/><rect x="410.56" y="582.40" width="9.82" height="9.65" fill="#fdf0ec"/><rect x="439.87" y="582.40" width="9.82" height="9.65" fill="#c8c0c8"/><rect x="449.64" y="582.40" width="9.82" height="9.65" fill="#fdf0d0"/><rect x="498.49" y="582.40" width="9.82" height="9.65" fill="#b0a0b8"/><rect x="508.26" y="582.40" width="9.82" height="9.65" fill="#f0f0f0"/><rect x="547.34" y="582.40" width="9.82" height="9.65" fill="#f8f8f8"/><rect x="576.65" y="582.40" width="9.82" height="9.65" fill="#d8e8f8"/><rect x="596.19" y="582.40" width="9.82" height="9.65" fill="#f8e8dc"/><rect x="684.12" y="582.40" width="9.82" height="9.65" fill="#b8cce4"/><rect x="693.89" y="582.40" width="9.82" height="9.65" fill="#c0ccd0"/><rect x="703.66" y="582.40" width="9.82" height="9.65" fill="#f0f8fc"/><rect x="762.28" y="582.40" width="9.82" height="9.65" fill="#f0f4fc"/><rect x="772.05" y="582.40" width="9.82" height="9.65" fill="#d0c4bc"/><rect x="781.82" y="582.40" width="9.82" height="9.65" fill="#fdfcf8"/><rect x="859.98" y="582.40" width="9.82" height="9.65" fill="#dcd8c0"/><rect x="947.91" y="582.40" width="9.82" height="9.65" fill="#f8ecdc"/><rect x="967.45" y="582.40" width="9.82" height="9.65" fill="#dcc8b8"/><rect x="986.99" y="582.40" width="9.82" height="9.65" fill="#fdf0e0"/><rect x="996.76" y="582.40" width="9.82" height="9.65" fill="#f0f4f4"/><rect x="1006.53" y="582.40" width="9.82" height="9.65" fill="#e8f0ec"/><rect x="1065.15" y="582.40" width="9.82" height="9.65" fill="#f0f4fc"/><rect x="1074.92" y="582.40" width="9.82" height="9.65" fill="#ecf4fc"/><rect x="1084.69" y="582.40" width="9.82" height="9.65" fill="#ccc0c8"/><rect x="1094.46" y="582.40" width="9.82" height="9.65" fill="#c8bcc8"/><rect x="1114.00" y="582.40" width="9.82" height="9.65" fill="#e4f0fc"/><rect x="1172.62" y="582.40" width="9.82" height="9.65" fill="#e0d0d0"/><rect x="1182.39" y="582.40" width="9.82" height="9.65" fill="#c89898"/><rect x="1192.16" y="582.40" width="9.82" height="9.65" fill="#d0dcdc"/><rect x="1231.24" y="582.40" width="9.82" height="9.65" fill="#f0dcc0"/><rect x="1250.78" y="582.40" width="9.82" height="9.65" fill="#c8d4e0"/><rect x="137.00" y="592.00" width="9.82" height="9.75" fill="#80a8d0"/><rect x="146.77" y="592.00" width="9.82" height="9.75" fill="#c0a088"/><rect x="156.54" y="592.00" width="9.82" height="9.75" fill="#f0f0ec"/><rect x="195.62" y="592.00" width="9.82" height="9.75" fill="#d8b8a0"/><rect x="205.39" y="592.00" width="9.82" height="9.75" fill="#b8c8d8"/><rect x="215.16" y="592.00" width="9.82" height="9.75" fill="#c8c8c8"/><rect x="224.93" y="592.00" width="9.82" height="9.75" fill="#b88058"/><rect x="234.70" y="592.00" width="9.82" height="9.75" fill="#ecdcc0"/><rect x="283.55" y="592.00" width="9.82" height="9.75" fill="#c0d4e8"/><rect x="293.32" y="592.00" width="9.82" height="9.75" fill="#c0d4e8"/><rect x="303.09" y="592.00" width="9.82" height="9.75" fill="#a88870"/><rect x="312.86" y="592.00" width="9.82" height="9.75" fill="#f8d8b0"/><rect x="361.71" y="592.00" width="9.82" height="9.75" fill="#a0b0c8"/><rect x="371.48" y="592.00" width="9.82" height="9.75" fill="#b88068"/><rect x="410.56" y="592.00" width="9.82" height="9.75" fill="#e0c498"/><rect x="430.10" y="592.00" width="9.82" height="9.75" fill="#5068a0"/><rect x="439.87" y="592.00" width="9.82" height="9.75" fill="#fdecd8"/><rect x="449.64" y="592.00" width="9.82" height="9.75" fill="#fde0b0"/><rect x="498.49" y="592.00" width="9.82" height="9.75" fill="#ecdcd8"/><rect x="508.26" y="592.00" width="9.82" height="9.75" fill="#f0e8e4"/><rect x="518.03" y="592.00" width="9.82" height="9.75" fill="#f0ece8"/><rect x="547.34" y="592.00" width="9.82" height="9.75" fill="#dcd8d8"/><rect x="566.88" y="592.00" width="9.82" height="9.75" fill="#e0d0b8"/><rect x="576.65" y="592.00" width="9.82" height="9.75" fill="#b0cce8"/><rect x="586.42" y="592.00" width="9.82" height="9.75" fill="#686890"/><rect x="596.19" y="592.00" width="9.82" height="9.75" fill="#d8c0a8"/><rect x="605.96" y="592.00" width="9.82" height="9.75" fill="#e0b888"/><rect x="615.73" y="592.00" width="9.82" height="9.75" fill="#f0f8fc"/><rect x="684.12" y="592.00" width="9.82" height="9.75" fill="#78a0d8"/><rect x="693.89" y="592.00" width="9.82" height="9.75" fill="#ece8d8"/><rect x="703.66" y="592.00" width="9.82" height="9.75" fill="#c8a0b0"/><rect x="762.28" y="592.00" width="9.82" height="9.75" fill="#6898d0"/><rect x="772.05" y="592.00" width="9.82" height="9.75" fill="#dce8f8"/><rect x="781.82" y="592.00" width="9.82" height="9.75" fill="#fdfcf8"/><rect x="859.98" y="592.00" width="9.82" height="9.75" fill="#c8b080"/><rect x="869.75" y="592.00" width="9.82" height="9.75" fill="#a07048"/><rect x="879.52" y="592.00" width="9.82" height="9.75" fill="#fdf0e4"/><rect x="938.14" y="592.00" width="9.82" height="9.75" fill="#f8ecdc"/><rect x="947.91" y="592.00" width="9.82" height="9.75" fill="#e0c8b0"/><rect x="957.68" y="592.00" width="9.82" height="9.75" fill="#c0d8f0"/><rect x="967.45" y="592.00" width="9.82" height="9.75" fill="#987870"/><rect x="986.99" y="592.00" width="9.82" height="9.75" fill="#f8dcb8"/><rect x="996.76" y="592.00" width="9.82" height="9.75" fill="#fdfcf8"/><rect x="1006.53" y="592.00" width="9.82" height="9.75" fill="#e8f0e8"/><rect x="1026.07" y="592.00" width="9.82" height="9.75" fill="#b07840"/><rect x="1065.15" y="592.00" width="9.82" height="9.75" fill="#d0dce0"/><rect x="1074.92" y="592.00" width="9.82" height="9.75" fill="#ecf4f8"/><rect x="1084.69" y="592.00" width="9.82" height="9.75" fill="#707c90"/><rect x="1094.46" y="592.00" width="9.82" height="9.75" fill="#b88878"/><rect x="1114.00" y="592.00" width="9.82" height="9.75" fill="#d0e4fc"/><rect x="1123.77" y="592.00" width="9.82" height="9.75" fill="#687088"/><rect x="1172.62" y="592.00" width="9.82" height="9.75" fill="#c0d8f0"/><rect x="1182.39" y="592.00" width="9.82" height="9.75" fill="#d0b0b8"/><rect x="1192.16" y="592.00" width="9.82" height="9.75" fill="#fdf0d0"/><rect x="1231.24" y="592.00" width="9.82" height="9.75" fill="#d8a878"/><rect x="1250.78" y="592.00" width="9.82" height="9.75" fill="#98a8c0"/><rect x="146.77" y="612.30" width="9.82" height="9.05" fill="#f0e8dc"/><rect x="156.54" y="612.30" width="9.82" height="9.05" fill="#e5d0c5"/><rect x="185.85" y="612.30" width="9.82" height="9.05" fill="#e5e5e5"/><rect x="195.62" y="612.30" width="9.82" height="9.05" fill="#d5cdc5"/><rect x="205.39" y="612.30" width="9.82" height="9.05" fill="#e8e8e0"/><rect x="215.16" y="612.30" width="9.82" height="9.05" fill="#b0b8d0"/><rect x="224.93" y="612.30" width="9.82" height="9.05" fill="#d0c8c0"/><rect x="283.55" y="612.30" width="9.82" height="9.05" fill="#f8ecd8"/><rect x="293.32" y="612.30" width="9.82" height="9.05" fill="#c8dcec"/><rect x="303.09" y="612.30" width="9.82" height="9.05" fill="#e0cdbd"/><rect x="312.86" y="612.30" width="9.82" height="9.05" fill="#b8a8a0"/><rect x="361.71" y="612.30" width="9.82" height="9.05" fill="#ece8e0"/><rect x="371.48" y="612.30" width="9.82" height="9.05" fill="#a8b8d0"/><rect x="381.25" y="612.30" width="9.82" height="9.05" fill="#e4e4e4"/><rect x="410.56" y="612.30" width="9.82" height="9.05" fill="#98a8b8"/><rect x="420.33" y="612.30" width="9.82" height="9.05" fill="#e0d0b8"/><rect x="430.10" y="612.30" width="9.82" height="9.05" fill="#f0f0ec"/><rect x="518.03" y="612.30" width="9.82" height="9.05" fill="#e0dcd8"/><rect x="547.34" y="612.30" width="9.82" height="9.05" fill="#dcccbc"/><rect x="566.88" y="612.30" width="9.82" height="9.05" fill="#e0d0c8"/><rect x="576.65" y="612.30" width="9.82" height="9.05" fill="#b8b8b8"/><rect x="586.42" y="612.30" width="9.82" height="9.05" fill="#d0dce8"/><rect x="596.19" y="612.30" width="9.82" height="9.05" fill="#c8c8c8"/><rect x="605.96" y="612.30" width="9.82" height="9.05" fill="#d0a8a8"/><rect x="674.35" y="612.30" width="9.82" height="9.05" fill="#e8dcd4"/><rect x="684.12" y="612.30" width="9.82" height="9.05" fill="#e4e8ec"/><rect x="693.89" y="612.30" width="9.82" height="9.05" fill="#c8c0bc"/><rect x="762.28" y="612.30" width="9.82" height="9.05" fill="#e4e8ec"/><rect x="772.05" y="612.30" width="9.82" height="9.05" fill="#e0e4e8"/><rect x="781.82" y="612.30" width="9.82" height="9.05" fill="#b8b4b0"/><rect x="859.98" y="612.30" width="9.82" height="9.05" fill="#e8b8b8"/><rect x="869.75" y="612.30" width="9.82" height="9.05" fill="#b8c8dc"/><rect x="879.52" y="612.30" width="9.82" height="9.05" fill="#dcdcdc"/><rect x="938.14" y="612.30" width="9.82" height="9.05" fill="#b0a8a0"/><rect x="957.68" y="612.30" width="9.82" height="9.05" fill="#d0d8e0"/><rect x="967.45" y="612.30" width="9.82" height="9.05" fill="#dce8f0"/><rect x="986.99" y="612.30" width="9.82" height="9.05" fill="#c0c0c0"/><rect x="996.76" y="612.30" width="9.82" height="9.05" fill="#e4e4e4"/><rect x="1006.53" y="612.30" width="9.82" height="9.05" fill="#a8a8a8"/><rect x="1016.30" y="612.30" width="9.82" height="9.05" fill="#c8c4c8"/><rect x="1026.07" y="612.30" width="9.82" height="9.05" fill="#b0a0a0"/><rect x="1055.38" y="612.30" width="9.82" height="9.05" fill="#e4ecf4"/><rect x="1065.15" y="612.30" width="9.82" height="9.05" fill="#c8c8cc"/><rect x="1074.92" y="612.30" width="9.82" height="9.05" fill="#d8c0b0"/><rect x="1084.69" y="612.30" width="9.82" height="9.05" fill="#c8d8e8"/><rect x="1094.46" y="612.30" width="9.82" height="9.05" fill="#c8c8d0"/><rect x="1123.77" y="612.30" width="9.82" height="9.05" fill="#c8d4d8"/><rect x="1182.39" y="612.30" width="9.82" height="9.05" fill="#a0a0a0"/><rect x="1192.16" y="612.30" width="9.82" height="9.05" fill="#e8e0d8"/><rect x="1250.78" y="612.30" width="9.82" height="9.05" fill="#dce4ec"/><rect x="137.00" y="621.30" width="9.82" height="9.45" fill="#e5e8ec"/><rect x="146.77" y="621.30" width="9.82" height="9.45" fill="#c8d8e8"/><rect x="361.71" y="621.30" width="9.82" height="9.45" fill="#c8cce0"/><rect x="605.96" y="621.30" width="9.82" height="9.45" fill="#983040"/><rect x="859.98" y="621.30" width="9.82" height="9.45" fill="#dce4ec"/><rect x="1123.77" y="621.30" width="9.82" height="9.45" fill="#d0f0f0"/><rect x="1250.78" y="621.30" width="9.82" height="9.45" fill="#dce8f4"/><rect x="1260.6" y="592" width="4.6" height="9.75" fill="#888088"/><rect x="390.8" y="10.7" width="10.00" height="9.10" fill="#e6e6e6"/><rect x="390.8" y="19.8" width="10.00" height="9.70" fill="#ecebe8"/><rect x="400.8" y="19.8" width="9.90" height="9.70" fill="#b0dcee"/><rect x="420.4" y="19.8" width="9.80" height="9.70" fill="#e4cf9e"/><rect x="430.2" y="19.8" width="19.40" height="9.70" fill="#c2c2c2"/><rect x="449.6" y="19.8" width="10.10" height="9.70" fill="#c4c8cc"/><rect x="509" y="10.7" width="19.40" height="18.80" fill="#e4e8fc"/><rect x="518.7" y="19.8" width="9.70" height="9.70" fill="#dce4f8"/><rect x="537.4" y="19.8" width="9.80" height="9.70" fill="#dcdcdc"/></svg>
</div>
</body></html>
